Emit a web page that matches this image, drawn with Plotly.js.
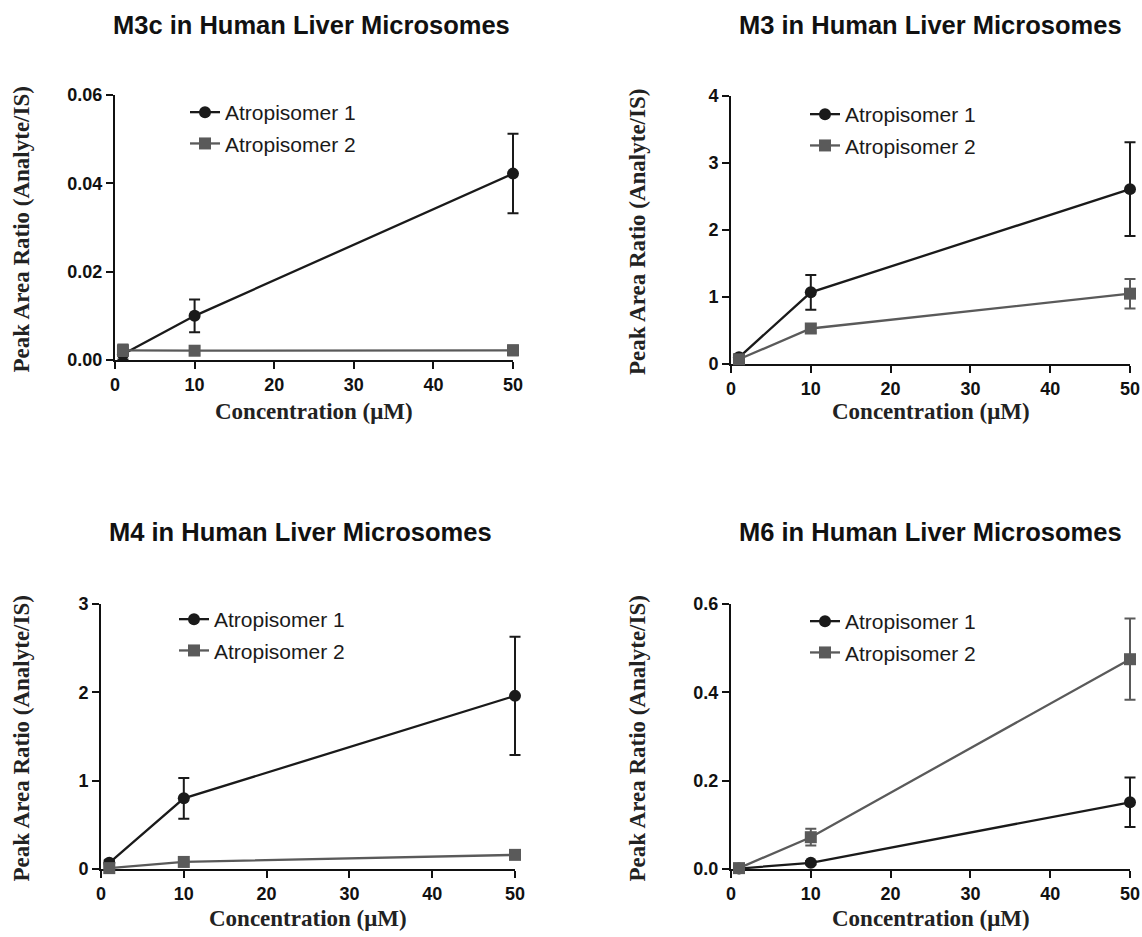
<!DOCTYPE html>
<html>
<head>
<meta charset="utf-8">
<script src="https://cdn.plot.ly/plotly-3.0.1.min.js"></script>
<style>
html, body { margin: 0; padding: 0; background: #ffffff; }
#chart { width: 1142px; height: 937px; }
</style>
</head>
<body>
<div id="chart"></div>
<script>
// ---------------- DATA ----------------
const concentration = [1, 10, 50];
const seriesNames = ["Atropisomer 1", "Atropisomer 2"];
const panelTitles = [
  "M3c in Human Liver Microsomes",
  "M3 in Human Liver Microsomes",
  "M4 in Human Liver Microsomes",
  "M6 in Human Liver Microsomes"
];
const xTitle = "Concentration (μM)";
const yTitle = "Peak Area Ratio (Analyte/IS)";

// M3c
const m3c_atrop1 = [0.0013, 0.0100, 0.0422];
const m3c_atrop1_err = [0.0012, 0.0037, 0.0090];
const m3c_atrop2 = [0.0022, 0.0021, 0.0022];
const m3c_atrop2_err = [0.0013, 0.0009, 0.0011];
// M3
const m3_atrop1 = [0.10, 1.07, 2.61];
const m3_atrop1_err = [0.04, 0.26, 0.70];
const m3_atrop2 = [0.07, 0.53, 1.05];
const m3_atrop2_err = [0.03, 0.06, 0.22];
// M4
const m4_atrop1 = [0.07, 0.80, 1.96];
const m4_atrop1_err = [0.03, 0.23, 0.67];
const m4_atrop2 = [0.01, 0.08, 0.16];
const m4_atrop2_err = [0.01, 0.02, 0.02];
// M6
const m6_atrop1 = [0.001, 0.014, 0.151];
const m6_atrop1_err = [0.001, 0.004, 0.056];
const m6_atrop2 = [0.002, 0.072, 0.475];
const m6_atrop2_err = [0.001, 0.019, 0.092];

const xTickVals = [0, 10, 20, 30, 40, 50];
const xMax = 50;
const yTickVals = [
  [0, 0.02, 0.04, 0.06],
  [0, 1, 2, 3, 4],
  [0, 1, 2, 3],
  [0, 0.2, 0.4, 0.6]
];
const yTickFormats = [".2f", "d", "d", ".1f"];

// ---------------- STYLE / LAYOUT ----------------
const W = 1142, H = 937;
const colors = ["#1a1a1a", "#5a5a5a"];
const symbols = ["circle", "square"];
const fx = p => p / W;
const fy = p => 1 - p / H;

// panel boxes in pixels: [xLeft, xRight, yBottom, yTop]
const boxes = [
  [115, 513, 360, 95],
  [731, 1130, 364, 96],
  [101, 515, 869, 604],
  [731, 1130, 869, 604]
];
const EXT = 10;   // extra room (px) right of the axis end for error-bar caps
const EXTY = 8;   // extra room (px) below the x axis
const titlePos = [[311, 25], [930, 25], [300, 532], [930, 532]];
const yTitleX = [21, 637, 21, 637];
const xTitleY = [412, 412, 918, 918];
const legendPos = [[185, 92], [805, 94], [174, 599], [805, 601]];

const panelData = [
  [[m3c_atrop1, m3c_atrop1_err], [m3c_atrop2, m3c_atrop2_err]],
  [[m3_atrop1, m3_atrop1_err], [m3_atrop2, m3_atrop2_err]],
  [[m4_atrop1, m4_atrop1_err], [m4_atrop2, m4_atrop2_err]],
  [[m6_atrop1, m6_atrop1_err], [m6_atrop2, m6_atrop2_err]]
];

const sans = "Arial, 'Liberation Sans', sans-serif";
const serif = "'Times New Roman', 'Liberation Serif', serif";
const tickFont = { family: sans, size: 18, color: "#111", weight: 700 };
const traces = [];
const layout = {
  width: W, height: H,
  margin: { l: 0, r: 0, t: 0, b: 0 },
  paper_bgcolor: "#ffffff",
  plot_bgcolor: "rgba(0,0,0,0)",
  showlegend: true,
  annotations: []
};
const axName = (p, k) => (k === 1 ? p + "axis" : p + "axis" + k);
const axId = (p, k) => (k === 1 ? p : p + k);

panelData.forEach((pd, i) => {
  const n = i + 1;          // visible axes
  const d = n + 4;          // hidden data axes (same scales, slightly larger area)
  const legName = n === 1 ? "legend" : "legend" + n;
  const b = boxes[i];
  const lenX = b[1] - b[0];
  const lenY = b[2] - b[3];
  const yMax = yTickVals[i][yTickVals[i].length - 1];

  // empty trace so the visible axis pair is drawn
  traces.push({
    type: "scatter", mode: "markers", x: [], y: [],
    xaxis: axId("x", n), yaxis: axId("y", n),
    showlegend: false, hoverinfo: "skip"
  });

  pd.forEach((s, k) => {
    traces.push({
      type: "scatter",
      mode: "lines+markers",
      x: concentration,
      y: s[0],
      name: seriesNames[k],
      xaxis: axId("x", d), yaxis: axId("y", d),
      legend: legName,
      legendgroup: "g" + n + "_" + k,
      cliponaxis: false,
      line: { color: colors[k], width: 2.3 },
      marker: { symbol: symbols[k], size: 12, color: colors[k] },
      error_y: { type: "data", array: s[1], visible: true, color: colors[k], thickness: 2, width: 5.5 }
    });
  });

  const common = {
    ticks: "outside", ticklen: 7, tickwidth: 2, tickcolor: "#111",
    showline: true, linecolor: "#111", linewidth: 2,
    showgrid: false, zeroline: false,
    tickfont: tickFont,
    fixedrange: true
  };
  layout[axName("x", n)] = Object.assign({
    domain: [fx(b[0]), fx(b[1])],
    anchor: axId("y", n),
    range: [0, xMax],
    tickvals: xTickVals
  }, common);
  layout[axName("y", n)] = Object.assign({
    domain: [fy(b[2]), fy(b[3])],
    anchor: axId("x", n),
    range: [0, yMax],
    tickvals: yTickVals[i],
    tickformat: yTickFormats[i]
  }, common);
  layout[axName("x", d)] = {
    domain: [fx(b[0]), fx(b[1] + EXT)],
    anchor: axId("y", d),
    range: [0, xMax * (lenX + EXT) / lenX],
    visible: false, showgrid: false, zeroline: false, fixedrange: true
  };
  layout[axName("y", d)] = {
    domain: [fy(b[2] + EXTY), fy(b[3])],
    anchor: axId("x", d),
    range: [-yMax * EXTY / lenY, yMax],
    visible: false, showgrid: false, zeroline: false, fixedrange: true
  };
  layout[legName] = {
    x: fx(legendPos[i][0]), y: fy(legendPos[i][1]),
    xanchor: "left", yanchor: "top",
    bgcolor: "rgba(0,0,0,0)",
    borderwidth: 0,
    traceorder: "grouped",
    tracegroupgap: 1,
    font: { family: sans, size: 21, color: "#1a1a1a" }
  };
  layout.annotations.push({
    text: panelTitles[i], xref: "paper", yref: "paper",
    x: fx(titlePos[i][0]), y: fy(titlePos[i][1]),
    xanchor: "center", yanchor: "middle", showarrow: false,
    font: { family: sans, size: 25.5, color: "#111", weight: 700 }
  });
  layout.annotations.push({
    text: yTitle, xref: "paper", yref: "paper",
    x: fx(yTitleX[i]), y: fy((b[2] + b[3]) / 2 + 2),
    xanchor: "center", yanchor: "middle", showarrow: false, textangle: -90,
    font: { family: serif, size: 23, color: "#222", weight: 700 }
  });
  layout.annotations.push({
    text: xTitle, xref: "paper", yref: "paper",
    x: fx((b[0] + b[1]) / 2), y: fy(xTitleY[i]),
    xanchor: "center", yanchor: "middle", showarrow: false,
    font: { family: serif, size: 23, color: "#222", weight: 700 }
  });
});

Plotly.newPlot("chart", traces, layout, { staticPlot: true, displayModeBar: false });
</script>
</body>
</html>
